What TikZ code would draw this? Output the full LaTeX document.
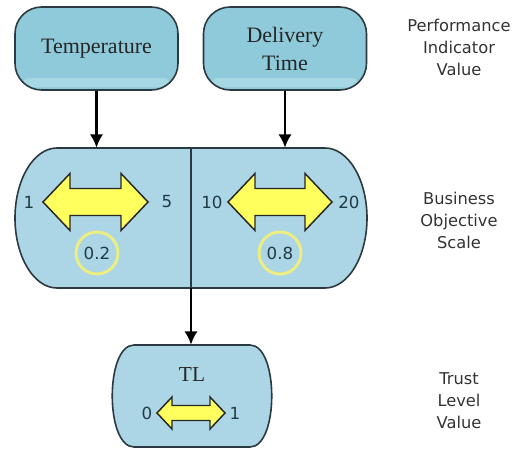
\documentclass[tikz,border=0pt]{standalone}
\usepackage{fontspec}
\setmainfont{Liberation Serif}
\newfontfamily\dvs{DejaVu Sans}
\usetikzlibrary{arrows.meta}
\definecolor{topfill}{HTML}{8FCADB}
\definecolor{bandc}{HTML}{A6D8E4}
\definecolor{boxfill}{HTML}{ACD6E6}
\definecolor{edgec}{HTML}{2B3A40}
\definecolor{yfill}{HTML}{FFFF5E}
\definecolor{ringc}{HTML}{EEEE80}
\definecolor{numc}{HTML}{1F3B45}
\definecolor{sidec}{HTML}{333333}
\newcommand\yarr[6]{%
  \filldraw[yarrow] (#1,#3) -- (#1+#4,#3+#5) -- (#1+#4,#3+#6) -- (#2-#4,#3+#6) -- (#2-#4,#3+#5) -- (#2,#3) -- (#2-#4,#3-#5) -- (#2-#4,#3-#6) -- (#1+#4,#3-#6) -- (#1+#4,#3-#5) -- cycle;}
\tikzset{
  topbox/.style={draw=edgec, line width=1.2pt, fill=topfill, rounded corners=20pt,
    minimum width=122.25pt, minimum height=62.25pt, align=center,
    font=\fontsize{16.5}{21}\selectfont, text=black!85,
    path picture={\fill[bandc, rounded corners=4pt] ([xshift=6pt,yshift=2pt]path picture bounding box.south west) rectangle ([xshift=-6pt,yshift=9pt]path picture bounding box.south east);}},
  midstyle/.style={draw=edgec, line width=1.2pt, fill=boxfill},
  conn/.style={line width=1.9pt, -{Latex[length=10pt,width=10pt]}},
  yarrow/.style={fill=yfill, draw=black!85, line width=1.1pt, line join=miter},
  num/.style={font=\dvs\fontsize{12.5}{14}\selectfont, text=numc, inner sep=0pt},
  ring/.style={circle, draw=ringc, line width=2.2pt, minimum size=31.5pt, inner sep=0pt,
    font=\dvs\fontsize{12.5}{14}\selectfont, text=numc},
  side/.style={font=\dvs\fontsize{12.2}{16.5}\selectfont, text=sidec, align=center}
}
\begin{document}
\begin{tikzpicture}[x=0.75pt,y=0.75pt]
\useasboundingbox (0,0) rectangle (522,-457);
% top boxes
\node[topbox] (temp) at (96.5,-48.5) {Temperature};
\node[topbox] (deliv) at (285,-48.5) {Delivery\\Time};
% middle box
\node[minimum width=264pt, minimum height=105pt, inner sep=0pt] (bos) at (191,-218) {};
\draw[midstyle] (57,-148) -- (325,-148) arc[start angle=90,end angle=-90,x radius=31.5pt,y radius=52.5pt]
  -- (57,-288) arc[start angle=270,end angle=90,x radius=31.5pt,y radius=52.5pt] -- cycle;
\draw[edgec, line width=0.9pt] (bos.north) -- (bos.south);
% scales
\yarr{43}{148}{-202}{27}{28.5}{13.5}
\yarr{228}{332}{-202}{27}{28.5}{13.5}
\node[num] (n1) at (29,-202) {1};
\node[num] (n5) at (167,-202) {5};
\node[num] (n10) at (212,-202) {10};
\node[num] (n20) at (349,-202) {20};
\node[ring] (w1) at (97,-253) {0.2};
\node[ring] (w2) at (280,-253) {0.8};
% TL box
\node[minimum width=120pt, minimum height=76.5pt, inner sep=0pt] (tl) at (192,-396) {};
\draw[midstyle] (134,-345) -- (250,-345) .. controls (279,-345) and (279,-447) .. (250,-447)
  -- (134,-447) .. controls (105,-447) and (105,-345) .. (134,-345) -- cycle;
\node[font=\fontsize{16}{18}\selectfont, text=black!85] (tltext) at (192,-375) {TL};
\yarr{157}{225}{-413}{15}{16}{7.5}
\node[num] (n0) at (147,-413) {0};
\node[num] (nt1) at (235,-413) {1};
% connectors
\draw[conn] (temp.south) -- (temp.south |- bos.north);
\draw[conn] (deliv.south) -- (deliv.south |- bos.north);
\draw[conn] (bos.south) -- (bos.south |- tl.north);
% side labels
\node[side] (piv) at (459,-47) {Performance\\Indicator\\Value};
\node[side] (bosl) at (459,-220) {Business\\Objective\\Scale};
\node[side] (tlv) at (459,-401) {Trust\\Level\\Value};
\end{tikzpicture}
\end{document}
